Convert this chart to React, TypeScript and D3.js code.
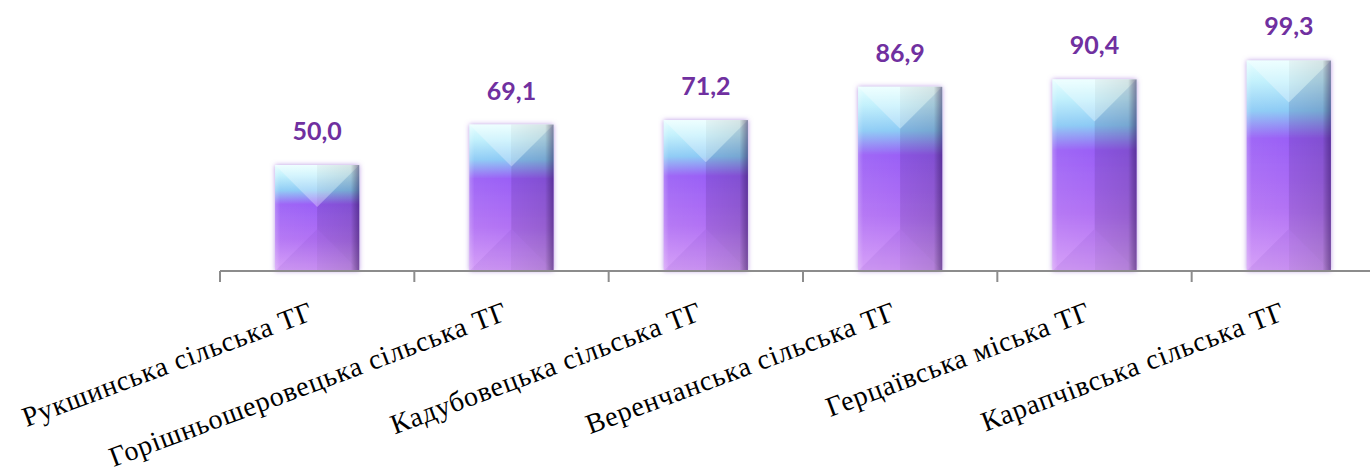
import React from "react";
import * as d3 from "d3";

const categories = [
  "Рукшинська сільська ТГ",
  "Горішньошеровецька сільська ТГ",
  "Кадубовецька сільська ТГ",
  "Веренчанська сільська ТГ",
  "Герцаївська міська ТГ",
  "Карапчівська сільська ТГ",
];
const values = [50.0, 69.1, 71.2, 86.9, 90.4, 99.3];
const valueLabels = ["50,0", "69,1", "71,2", "86,9", "90,4", "99,3"];

const W = 1370;
const H = 472;
const axisY = 271;

export default function App() {
  const x = d3
    .scaleBand<string>()
    .domain(categories)
    .range([220, 1386])
    .paddingInner(0.567)
    .paddingOuter(0.2835);
  const y = d3.scaleLinear().domain([0, 100]).range([axisY, 59]);
  const step = x.step();
  const bw = x.bandwidth();
  const boundaries = d3.range(categories.length + 1).map((i) => 220 + i * step);

  return (
    <svg
      width={W}
      height={H}
      style={{ position: "absolute", left: 0, top: 0, background: "#fff" }}
    >
      <defs>
        <linearGradient id="base" x1="0" y1="0" x2="0" y2="1">
          <stop offset="0" stopColor="#e6ffff" />
          <stop offset="0.1" stopColor="#c0f0fc" />
          <stop offset="0.24" stopColor="#8ccaf5" />
          <stop offset="0.37" stopColor="#9a60f6" />
          <stop offset="0.7" stopColor="#b272f4" />
          <stop offset="1" stopColor="#d49cf8" />
        </linearGradient>
        <linearGradient id="hshade" x1="0" y1="0" x2="1" y2="0">
          <stop offset="0" stopColor="#ffffff" stopOpacity="0.25" />
          <stop offset="0.06" stopColor="#ffffff" stopOpacity="0.05" />
          <stop offset="0.5" stopColor="#ffffff" stopOpacity="0" />
          <stop offset="0.5" stopColor="#000000" stopOpacity="0.04" />
          <stop offset="0.9" stopColor="#000000" stopOpacity="0.1" />
          <stop offset="1" stopColor="#1a0040" stopOpacity="0.45" />
        </linearGradient>
        <filter id="glow" x="-20%" y="-20%" width="140%" height="140%">
          <feDropShadow dx="0" dy="0" stdDeviation="2.5" floodColor="#9a6ad8" floodOpacity="0.7" />
        </filter>
      </defs>

      {/* bars */}
      {categories.map((c, i) => {
        const x0 = x(c)!;
        const x1 = x0 + bw;
        const cx = x0 + bw / 2;
        const top = y(values[i]);
        const bot = y(0);
        const half = bw / 2;
        const apexTop = Math.min(top + half, (top + bot) / 2);
        const apexBot = Math.max(bot - half, (top + bot) / 2);
        return (
          <g key={c}>
            <rect
              x={x0}
              y={top}
              width={bw}
              height={bot - top}
              fill="url(#base)"
              filter="url(#glow)"
            />
            <polygon
              points={`${x0},${top} ${x1},${top} ${cx},${apexTop}`}
              fill="#ffffff"
              fillOpacity={0.3}
            />
            <polygon
              points={`${x1},${top} ${x1},${bot} ${cx},${apexBot} ${cx},${apexTop}`}
              fill="#2a0060"
              fillOpacity={0.08}
            />
            <polygon
              points={`${x0},${bot} ${x1},${bot} ${cx},${apexBot}`}
              fill="#7a40c0"
              fillOpacity={0.12}
            />
            <rect x={x0} y={top} width={bw} height={bot - top} fill="url(#hshade)" />
          </g>
        );
      })}

      {/* axis */}
      <line x1={220} x2={W} y1={axisY} y2={axisY} stroke="#8c8c8c" strokeWidth={2} />
      {boundaries.map((bx, i) => (
        <line key={i} x1={bx} x2={bx} y1={axisY} y2={axisY + 11} stroke="#8c8c8c" strokeWidth={2} />
      ))}

      {/* value labels */}
      {categories.map((c, i) => (
        <text
          key={c}
          x={x(c)! + bw / 2}
          y={y(values[i]) - 25}
          textAnchor="middle"
          fontFamily="Lato, 'Open Sans', sans-serif"
          fontWeight="bold"
          fontSize={25}
          fill="#7030A0"
        >
          {valueLabels[i]}
        </text>
      ))}

      {/* category labels */}
      {categories.map((c) => (
        <text
          key={c}
          transform={`translate(${x(c)! + bw / 2 - 2},319) rotate(-20.5)`}
          textAnchor="end"
          fontFamily="'Liberation Serif', 'Times New Roman', serif"
          fontSize={28}
          letterSpacing={0.8}
          fill="#000"
        >
          {c}
        </text>
      ))}
    </svg>
  );
}
